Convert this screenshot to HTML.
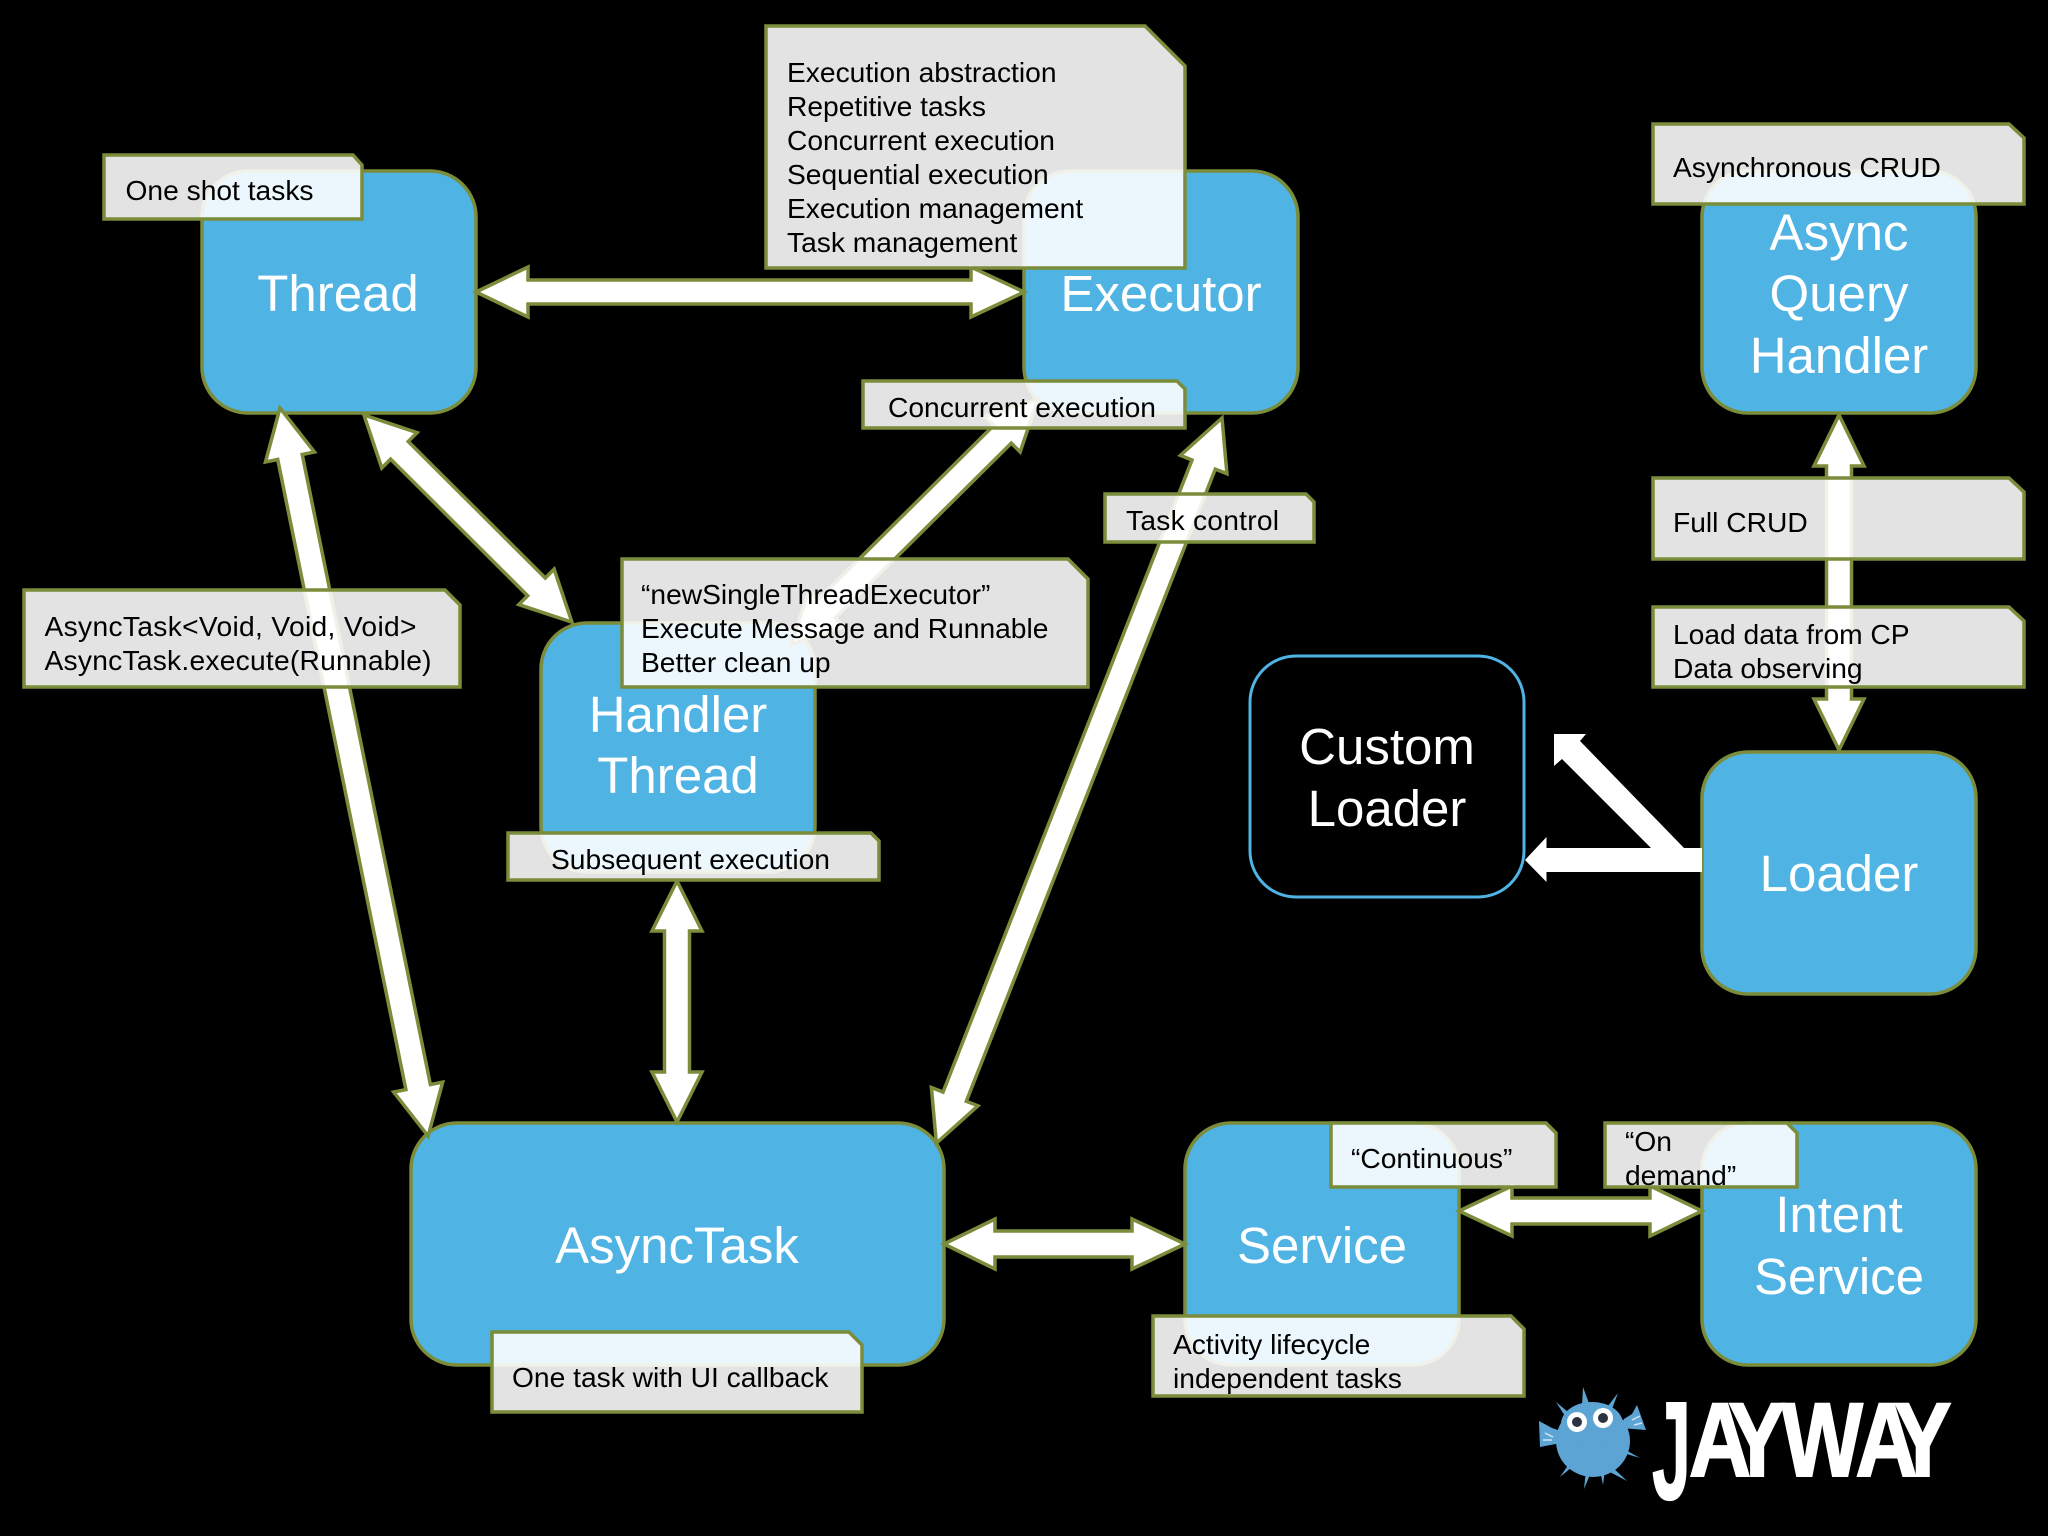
<!DOCTYPE html>
<html><head><meta charset="utf-8"><style>
html,body{margin:0;padding:0;background:#000}
svg{display:block}
text{font-family:"Liberation Sans",sans-serif}
.n{fill:#4fb3e3;stroke:#7b8c3a;stroke-width:3.5}
.a{fill:#fff;stroke:#7b8c3a;stroke-width:3.5;stroke-linejoin:miter}
.m{fill:#fff;fill-opacity:.89;stroke:#7b8c3a;stroke-width:3.5}
.l{font-size:51px;fill:#fff;text-anchor:middle}
.t{font-size:28.2px;fill:#000}
</style></head><body>
<svg width="2048" height="1536" viewBox="0 0 2048 1536" xmlns="http://www.w3.org/2000/svg">
<rect width="2048" height="1536" fill="#000"/>

<!-- nodes -->
<rect class="n" x="202" y="171" width="274" height="242" rx="46"/>
<rect class="n" x="1024" y="171" width="274" height="242" rx="46"/>
<rect class="n" x="1702" y="171" width="274" height="242" rx="46"/>
<rect class="n" x="541" y="623" width="274" height="249" rx="46"/>
<rect x="1250" y="656" width="274" height="241" rx="46" fill="#000" stroke="#4fb3e3" stroke-width="3"/>
<rect class="n" x="1702" y="752" width="274" height="242" rx="46"/>
<rect class="n" x="411" y="1123" width="533" height="242" rx="46"/>
<rect class="n" x="1185" y="1123" width="274" height="242" rx="46"/>
<rect class="n" x="1702" y="1123" width="274" height="242" rx="46"/>

<!-- arrows -->
<polygon class="a" points="476,292 528,267 528,280 971,280 971,267 1024,292 971,317 971,304 528,304 528,317"/>
<polygon class="a" transform="translate(280,408) rotate(78.5)" points="0,0 50,-25 50,-12.5 693,-12.5 693,-25 743,0 693,25 693,12.5 50,12.5 50,25"/>
<polygon class="a" transform="translate(364,415) rotate(44.9)" points="0,0 50,-25 50,-12.5 243.5,-12.5 243.5,-25 293.5,0 243.5,25 243.5,12.5 50,12.5 50,25"/>
<polygon class="a" transform="translate(1038,399) rotate(135.2)" points="0,0 50,-25 50,-12.5 298,-12.5 298,-25 348,0 298,25 298,12.5 50,12.5 50,25"/>
<polygon class="a" transform="translate(1222,418) rotate(111.5)" points="0,0 50,-25 50,-12.5 729.4,-12.5 729.4,-25 779.4,0 729.4,25 729.4,12.5 50,12.5 50,25"/>
<polygon class="a" points="677,881 702,931 689.5,931 689.5,1072 702,1072 677,1122 652,1072 664.5,1072 664.5,931 652,931"/>
<polygon class="a" points="944,1244 995,1219 995,1231 1132,1231 1132,1219 1185,1244 1132,1269 1132,1257 995,1257 995,1269"/>
<polygon class="a" points="1459,1211 1512,1186 1512,1198 1650,1198 1650,1186 1702,1211 1650,1236 1650,1224 1512,1224 1512,1236"/>
<polygon class="a" points="1839,415 1864,466 1851.5,466 1851.5,699 1864,699 1839,750 1814,699 1826.5,699 1826.5,466 1814,466"/>
<polygon fill="#fff" points="1554,734 1586,734 1580,741 1684,848 1702,848 1702,872 1546.5,872 1546.5,882 1525,860 1546.5,837 1546.5,848 1651,848 1562,759 1554,766"/>

<!-- notes -->
<polygon class="m" points="104,155 353,155 362,165 362,219 104,219"/>
<polygon class="m" points="766,26 1145,26 1185,66 1185,268 766,268"/>
<polygon class="m" points="1653,124 2009,124 2024,138 2024,204 1653,204"/>
<polygon class="m" points="863,381 1177,381 1185,389 1185,428 863,428"/>
<polygon class="m" points="1105,494 1306,494 1314,502 1314,542 1105,542"/>
<polygon class="m" points="1653,478 2009,478 2024,492 2024,559 1653,559"/>
<polygon class="m" points="1653,607 2009,607 2024,621 2024,687 1653,687"/>
<polygon class="m" points="24,590 445,590 460,605 460,687 24,687"/>
<polygon class="m" points="622,559 1068,559 1088,579 1088,687 622,687"/>
<polygon class="m" points="508,833 871,833 879,841 879,880 508,880"/>
<polygon class="m" points="492,1332 849,1332 862,1345 862,1412 492,1412"/>
<polygon class="m" points="1331,1123 1546,1123 1556,1133 1556,1187 1331,1187"/>
<polygon class="m" points="1605,1123 1787,1123 1797,1133 1797,1187 1605,1187"/>
<polygon class="m" points="1153,1316 1511,1316 1524,1329 1524,1396 1153,1396"/>

<!-- node labels -->
<text class="l" x="338" y="311">Thread</text>
<text class="l" x="1161" y="311">Executor</text>
<text class="l" x="1839" y="250">Async</text>
<text class="l" x="1839" y="311">Query</text>
<text class="l" x="1839" y="373">Handler</text>
<text class="l" x="678" y="732">Handler</text>
<text class="l" x="678" y="793">Thread</text>
<text class="l" x="1387" y="764">Custom</text>
<text class="l" x="1387" y="826">Loader</text>
<text class="l" x="1839" y="891">Loader</text>
<text class="l" x="677" y="1263">AsyncTask</text>
<text class="l" x="1322" y="1263">Service</text>
<text class="l" x="1839" y="1232">Intent</text>
<text class="l" x="1839" y="1294">Service</text>

<!-- note text -->
<text class="t" x="125.500" y="200">One shot tasks</text>
<text class="t" x="787" y="82">Execution abstraction</text>
<text class="t" x="787" y="116">Repetitive tasks</text>
<text class="t" x="787" y="150">Concurrent execution</text>
<text class="t" x="787" y="184">Sequential execution</text>
<text class="t" x="787" y="218">Execution management</text>
<text class="t" x="787" y="252">Task management</text>
<text class="t" x="1673" y="177">Asynchronous CRUD</text>
<text class="t" x="888" y="417">Concurrent execution</text>
<text class="t" x="1126" y="530" textLength="153">Task control</text>
<text class="t" x="1673" y="532">Full CRUD</text>
<text class="t" x="1673" y="644">Load data from CP</text>
<text class="t" x="1673" y="678">Data observing</text>
<text class="t" x="44.500" y="636" textLength="372">AsyncTask&lt;Void, Void, Void&gt;</text>
<text class="t" x="44.500" y="670" textLength="387">AsyncTask.execute(Runnable)</text>
<text class="t" x="641" y="604">“newSingleThreadExecutor”</text>
<text class="t" x="641" y="638">Execute Message and Runnable</text>
<text class="t" x="641" y="672">Better clean up</text>
<text class="t" x="551" y="869">Subsequent execution</text>
<text class="t" x="512" y="1387">One task with UI callback</text>
<text class="t" x="1351" y="1168">“Continuous”</text>
<text class="t" x="1625" y="1151">“On</text>
<text class="t" x="1625" y="1185">demand”</text>
<text class="t" x="1173" y="1354">Activity lifecycle</text>
<text class="t" x="1173" y="1388">independent tasks</text>

<!-- logo fish -->
<g fill="#5ba4d4">
<polygon points="1583,1387 1590,1406 1582,1406"/>
<polygon points="1618,1393 1608,1406 1612,1409"/>
<polygon points="1556,1402 1568,1412 1565,1416"/>
<polygon points="1640,1458 1622,1448 1620,1452"/>
<polygon points="1627,1481 1610,1465 1606,1470"/>
<polygon points="1584,1489 1592,1470 1586,1470"/>
<polygon points="1603,1485 1605,1470 1600,1470"/>
<polygon points="1560,1477 1578,1462 1573,1458"/>
<polygon points="1539,1421 1540,1447 1566,1442 1564,1432 1552,1428"/>
<polygon points="1637,1405 1646,1430 1620,1428 1624,1419 1632,1414"/>
<ellipse cx="1593" cy="1441" rx="37" ry="36"/>
<ellipse cx="1592" cy="1424" rx="31" ry="22"/>
</g>
<g stroke="#d3e6f3" stroke-width="1.500">
<line x1="1545" y1="1433" x2="1553" y2="1437"/><line x1="1543" y1="1440" x2="1552" y2="1440"/>
<line x1="1632" y1="1420" x2="1640" y2="1416"/><line x1="1634" y1="1425" x2="1642" y2="1423"/>
</g>
<circle cx="1577" cy="1422" r="10" fill="#fff"/><circle cx="1577" cy="1422" r="5" fill="#2b3340"/>
<circle cx="1603" cy="1418" r="10" fill="#fff"/><circle cx="1603" cy="1418" r="5" fill="#2b3340"/>

<!-- logo wordmark -->
<text x="0" y="0" font-size="140" font-weight="bold" fill="#fff" stroke="#fff" stroke-width="1.500" transform="translate(1652,1499) scale(.5,1)">J</text>
<text x="0 48 113 203 250" y="0" font-size="105" font-weight="bold" fill="#fff" stroke="#fff" stroke-width="2" transform="translate(1689,1476) scale(.82,1)">AYWAY</text>
</svg>
</body></html>
